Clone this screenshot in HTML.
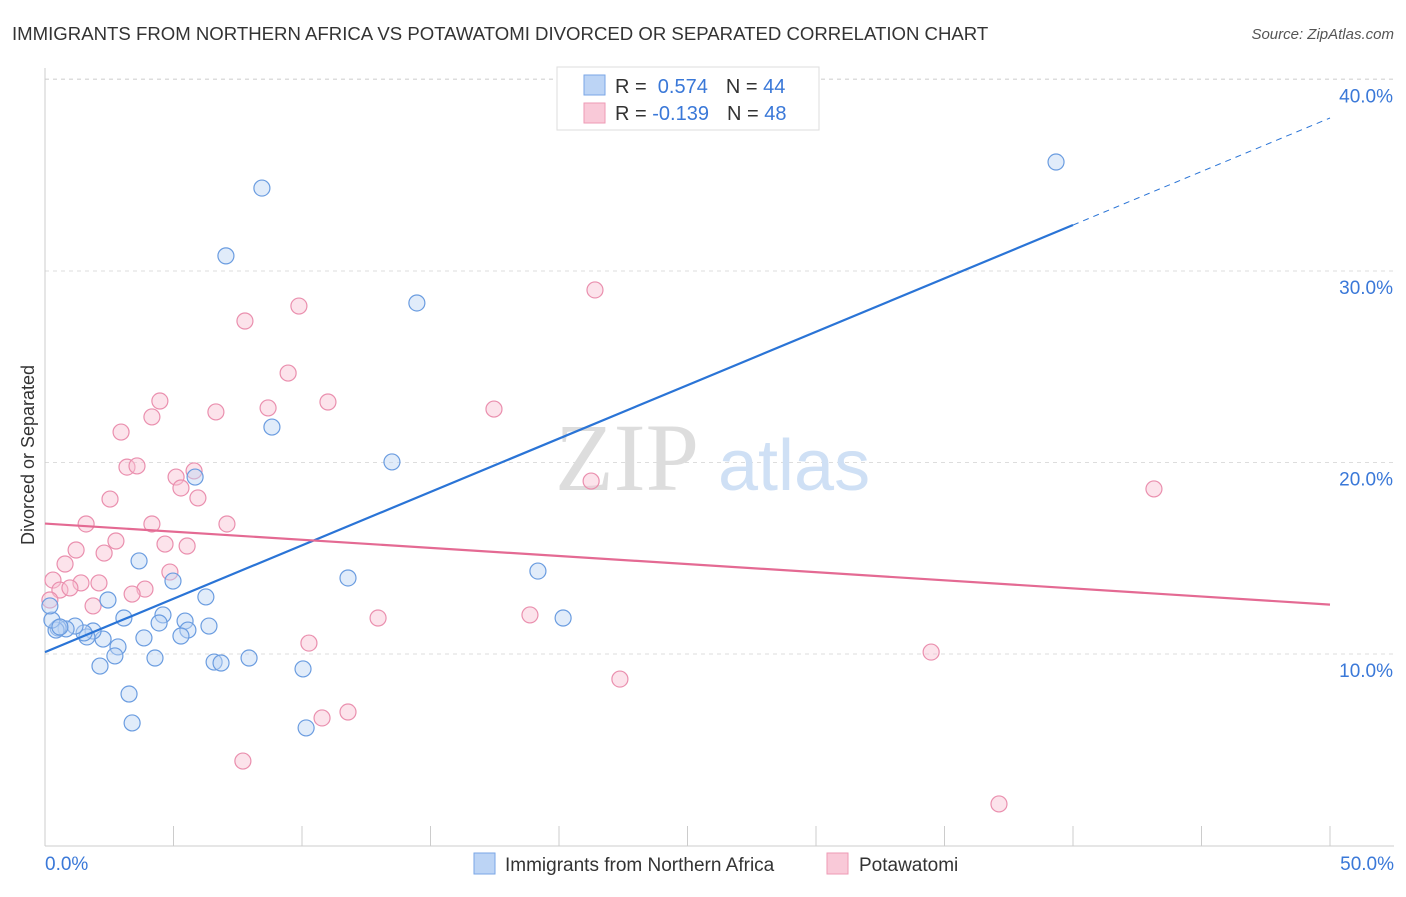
<!DOCTYPE html>
<html><head><meta charset="utf-8"><style>
body{margin:0;background:#fff;font-family:"Liberation Sans",sans-serif}
svg text{font-family:"Liberation Sans",sans-serif}
</style></head><body>
<svg width="1406" height="892" viewBox="0 0 1406 892">
<text x="12" y="40" font-size="18.6" fill="#333">IMMIGRANTS FROM NORTHERN AFRICA VS POTAWATOMI DIVORCED OR SEPARATED CORRELATION CHART</text>
<text x="1394" y="39" font-size="15" fill="#555" font-style="italic" text-anchor="end">Source: ZipAtlas.com</text>
<g id="grid"></g>
<text x="555" y="490" font-size="96" fill="#ddd" style="font-family:'Liberation Serif',serif">ZIP</text>
<text x="718" y="490" font-size="72" fill="#cfe0f5">atlas</text>
<text transform="translate(34,455) rotate(-90)" font-size="18" fill="#333" text-anchor="middle">Divorced or Separated</text>
<g id="marks"></g>
<g>
<rect x="557" y="67" width="262" height="63" fill="#fff" stroke="#ddd"/>
<rect x="584" y="75" width="21" height="20" fill="#bcd4f5" stroke="#7aa6e6"/>
<rect x="584" y="103" width="21" height="20" fill="#f9c9d8" stroke="#ee9ab5"/>
<text x="615" y="93" font-size="20" fill="#333">R = <tspan fill="#3a78d8">&#160;0.574</tspan><tspan dx="18">N = </tspan><tspan fill="#3a78d8">44</tspan></text>
<text x="615" y="120" font-size="20" fill="#333">R = <tspan fill="#3a78d8">-0.139</tspan><tspan dx="18">N = </tspan><tspan fill="#3a78d8">48</tspan></text>
</g>
<g>
<rect x="474" y="853" width="21" height="21" fill="#bcd4f5" stroke="#7aa6e6"/>
<text x="505" y="871" font-size="19" fill="#333">Immigrants from Northern Africa</text>
<rect x="827" y="853" width="21" height="21" fill="#f9c9d8" stroke="#ee9ab5"/>
<text x="859" y="871" font-size="19" fill="#333">Potawatomi</text>
</g>
</svg>
<script>
const yTicks=[10,20,30,40];
const yTickLabels=["10.0%","20.0%","30.0%","40.0%"];
const xTicks=[0,5,10,15,20,25,30,35,40,45,50];
const xTickLabels=["0.0%","50.0%"];
const blueX=[8.44,7.04,14.47,39.34,8.83,13.50,5.84,3.66,11.79,19.18,20.16,4.98,2.45,6.26,3.07,4.59,4.44,5.45,5.56,5.29,6.38,3.85,2.84,2.72,2.26,1.87,1.63,1.52,1.17,0.82,0.51,0.43,0.27,0.19,4.28,2.14,6.58,6.85,7.94,10.04,3.27,3.39,10.16,0.58];
const blueY=[34.33,30.79,28.33,35.69,21.85,20.03,19.24,14.86,13.97,14.33,11.88,13.81,12.82,12.98,11.88,12.04,11.62,11.72,11.25,10.94,11.46,10.84,10.37,9.90,10.78,11.20,10.89,11.10,11.46,11.31,11.36,11.25,11.77,12.51,9.79,9.37,9.58,9.53,9.79,9.22,7.91,6.40,6.14,11.41];
const pinkX=[21.40,9.88,7.78,9.46,4.47,11.01,8.68,6.65,17.47,4.16,2.96,3.19,3.58,5.80,5.10,5.29,5.95,2.53,21.25,43.15,1.60,4.16,7.08,2.76,1.21,2.30,4.67,5.53,0.78,0.31,4.86,1.40,2.10,3.89,0.58,0.97,3.39,1.87,0.19,12.96,18.87,10.27,34.48,22.37,10.78,11.79,7.70,37.12];
const pinkY=[29.01,28.17,27.39,24.67,23.21,23.16,22.85,22.64,22.79,22.38,21.59,19.76,19.82,19.56,19.24,18.67,18.15,18.09,19.03,18.62,16.79,16.79,16.79,15.90,15.43,15.27,15.74,15.64,14.70,13.86,14.28,13.71,13.71,13.39,13.34,13.45,13.13,12.51,12.82,11.88,12.04,10.57,10.10,8.69,6.66,6.97,4.41,2.17];
const blueTrend=[10.10,32.40,37.99];
const pinkTrend=[16.81,12.58];
const NS="http://www.w3.org/2000/svg";
const X=v=>45+v/50*1285, Y=v=>845.5-v*19.15;
function mk(t,a,p){const e=document.createElementNS(NS,t);for(const k in a)e.setAttribute(k,a[k]);p.appendChild(e);return e;}
const gridG=document.getElementById('grid'),marksG=document.getElementById('marks');
yTicks.forEach((t,i)=>{
 const l=mk('line',{x1:45,x2:1394,y1:Y(t),y2:Y(t),stroke:'#ddd','stroke-dasharray':'4,4'},gridG);
 
 
 const tx=mk('text',{x:1393,y:Y(t)+23,'font-size':19,fill:'#3a78d8','text-anchor':'end'},gridG);
 tx.textContent=yTickLabels[i];
 
 
});
const topGrid=mk('line',{x1:45,x2:1394,y1:79,y2:79,stroke:'#ddd','stroke-dasharray':'4,4'},gridG);


const ya=mk('line',{x1:45,x2:45,y1:68,y2:846,stroke:'#ccc'},gridG);


const xa=mk('line',{x1:45,x2:1394,y1:846,y2:846,stroke:'#ccc'},gridG);


xTicks.forEach(t=>{
 const l=mk('line',{x1:X(t),x2:X(t),y1:826,y2:846,stroke:'#ccc'},gridG);
 
 
});
[[0,'start',45],[50,'end',1394]].forEach((d,i)=>{
 const tx=mk('text',{x:d[2],y:870,'font-size':19,fill:'#3a78d8','text-anchor':d[1]},gridG);
 tx.textContent=xTickLabels[i];
 
 
});
function dots(xs,ys,fill,stroke,name){xs.forEach((x,i)=>{
 const c=mk('circle',{cx:X(x),cy:Y(ys[i]),r:8,fill:fill,'fill-opacity':0.45,stroke:stroke,'stroke-width':1.2},marksG);
 
 
});}
dots(pinkX,pinkY,'#f9c0d2','#ea8fae','pink-point');
dots(blueX,blueY,'#bcd4f5','#6a9ce0','blue-point');
const b1=mk('line',{x1:X(0),y1:Y(blueTrend[0]),x2:X(40),y2:Y(blueTrend[1]),stroke:'#2a74d6','stroke-width':2.2},marksG);


const b2=mk('line',{x1:X(40),y1:Y(blueTrend[1]),x2:X(50),y2:Y(blueTrend[2]),stroke:'#2a74d6','stroke-width':1,'stroke-dasharray':'6,5'},marksG);


const p1=mk('line',{x1:X(0),y1:Y(pinkTrend[0]),x2:X(50),y2:Y(pinkTrend[1]),stroke:'#e46a93','stroke-width':2.2},marksG);


</script>
</body></html>
